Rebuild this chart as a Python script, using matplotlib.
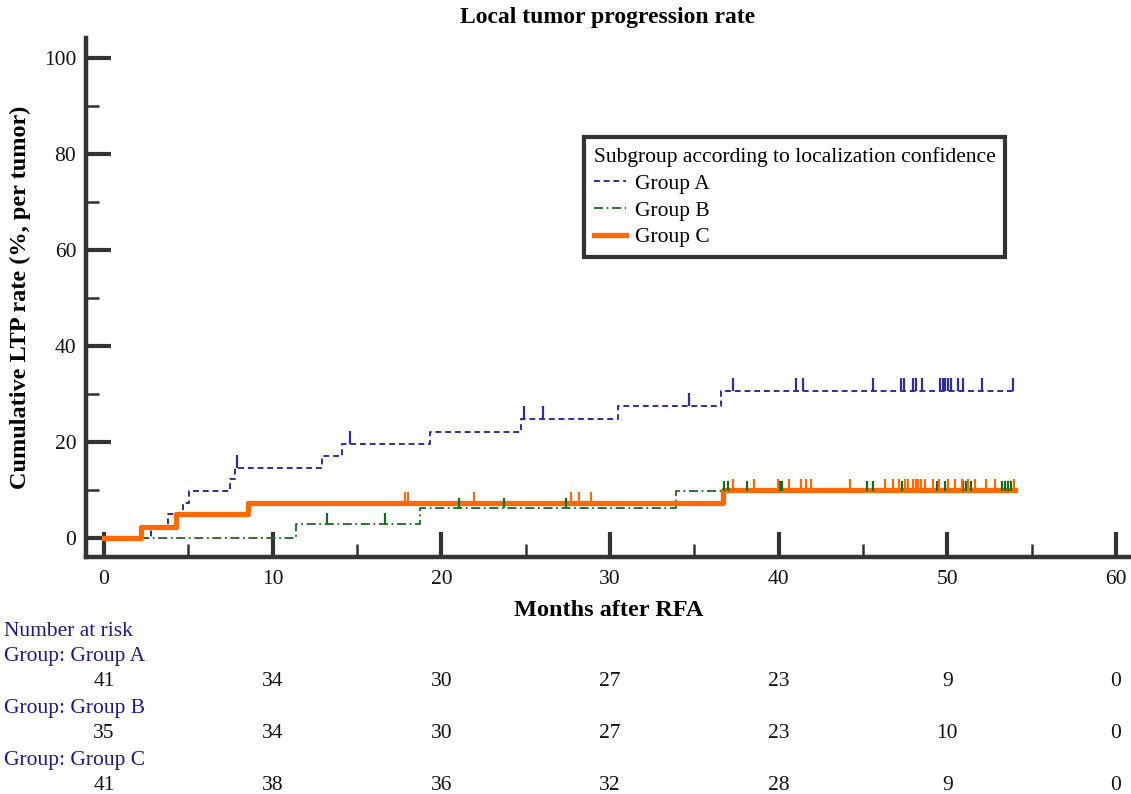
import numpy as np
import matplotlib
matplotlib.use("Agg")
import matplotlib.pyplot as plt
from matplotlib.transforms import blended_transform_factory
from matplotlib.ticker import MultipleLocator

# ---------------- data ----------------
group_names = ["Group A", "Group B", "Group C"]

# step curves (time in months, cumulative LTP rate in %)
a_times = [0, 2.77, 3.8, 4.7, 5.06, 7.47, 7.79, 12.9, 14.1, 19.3, 24.7, 30.5, 36.6, 54.0]
a_rates = [0, 2.4, 4.9, 7.3, 9.8, 12.2, 14.6, 17.0, 19.6, 22.0, 24.7, 27.5, 30.6, 30.6]
a_cens = [7.9, 14.6, 24.9, 26.0, 34.7, 37.3, 41.0, 41.45, 45.57, 47.28, 47.42, 47.97,
          48.13, 48.47, 49.55, 49.73, 49.85, 50.03, 50.19, 50.62, 50.92, 52.03, 53.9]

b_times = [0, 11.38, 18.73, 33.89, 54.0]
b_rates = [0, 3.0, 6.2, 9.7, 9.7]
b_cens = [13.2, 16.66, 21.04, 23.71, 27.37, 36.75, 37.0, 38.13, 40.07, 40.17, 45.21,
          45.6, 47.34, 49.36, 49.85, 50.94, 51.08, 51.43, 53.27, 53.41, 53.6, 53.76]

c_times = [0, 2.19, 4.25, 8.56, 36.67, 54.0]
c_rates = [0, 2.3, 4.9, 7.3, 10.0, 10.0]
c_cens = [17.84, 18.04, 21.95, 27.68, 28.16, 28.85, 37.3, 38.55, 39.97, 40.62, 41.32,
          41.65, 41.91, 44.22, 46.3, 46.75, 47.14, 47.48, 47.68, 47.97, 48.13, 48.27,
          48.41, 48.67, 49.16, 49.52, 50.05, 50.44, 50.84, 51.24, 51.63, 52.32, 52.82,
          53.96]

risk_times = [0, 10, 20, 30, 40, 50, 60]
risk_a = [41, 34, 30, 27, 23, 9, 0]
risk_b = [35, 34, 30, 27, 23, 10, 0]
risk_c = [41, 38, 36, 32, 28, 9, 0]

# ---------------- style ----------------
plt.rcParams['font.family'] = ['Liberation Serif', 'DejaVu Serif']
AX = '#333333'
BLUE = '#2E2E9A'
GREEN = '#1B6B1B'
ORANGE = '#FF6A00'
NAVY = '#1A1A8C'

W, H = 1131, 794
fig = plt.figure(figsize=(W / 100, H / 100), dpi=100)
ax = fig.add_axes([86 / W, 1 - 557 / H, (W - 86) / W, (557 - 38) / H])

ax.set_xlim(-18 / 16.867, 60 + 15 / 16.867)
ax.set_ylim(-19 / 4.8, 100 + 20 / 4.8)

def censor_levels(times, rates, cens):
    idx = np.searchsorted(np.array(times), np.array(cens), side='right') - 1
    return np.array(rates)[idx]

series = [
    (a_times, a_rates, a_cens, BLUE, (0, (3, 2)), 1.4, 2.7),
    (b_times, b_rates, b_cens, GREEN, (0, (5, 2, 1, 2)), 1.3, 2.2),
    (c_times, c_rates, c_cens, ORANGE, '-', 3.8, 2.3),
]
handles = []
for t, r, cz, col, ls, lw, th in series:
    ln, = ax.step(t, r, where='post', color=col, linestyle=ls, linewidth=lw,
                  zorder=3 if col == ORANGE else 2)
    lv = censor_levels(t, r, cz)
    ax.vlines(cz, lv, lv + th, color=col, linewidth=1.6, zorder=4)
    handles.append(ln)

# axes styling
for s in ['top', 'right']:
    ax.spines[s].set_visible(False)
for s in ['left', 'bottom']:
    ax.spines[s].set_linewidth(3.2)
    ax.spines[s].set_color(AX)

ax.xaxis.set_major_locator(MultipleLocator(10))
ax.xaxis.set_minor_locator(MultipleLocator(5))
ax.yaxis.set_major_locator(MultipleLocator(20))
ax.yaxis.set_minor_locator(MultipleLocator(10))
ax.tick_params(axis='both', which='major', direction='in', length=18, width=3, color=AX,
               labelsize=15.5, labelcolor='#111111')
ax.tick_params(axis='both', which='minor', direction='in', length=9.5, width=1.8, color=AX)
ax.tick_params(axis='x', which='major', pad=9)
ax.tick_params(axis='y', which='major', pad=7)

ax.set_xlabel("Months after RFA", fontsize=17.5, fontweight='bold', labelpad=8)
ax.set_ylabel("Cumulative LTP rate (%, per tumor)", fontsize=17.5, fontweight='bold', labelpad=9)
fig.text(608 / W, 1 - 18 / H, "Local tumor progression rate", fontsize=17, fontweight='bold',
         ha='center', va='center')

leg = ax.legend(handles=handles, labels=group_names,
                title="Subgroup according to localization confidence",
                loc='upper left', bbox_to_anchor=(584 / W, 1 - 137 / H),
                bbox_transform=fig.transFigure, fontsize=15.5, title_fontsize=15.5,
                fancybox=False, framealpha=1, edgecolor=AX, handlelength=1.5,
                handletextpad=0.4, labelspacing=0.32, borderpad=0.45,
                borderaxespad=0)
leg.get_frame().set_linewidth(3)
leg._legend_box.align = "left"

# number at risk table
tr = blended_transform_factory(ax.transData, fig.transFigure)
fig.text(4 / W, 1 - 631 / H, "Number at risk", color=NAVY, fontsize=15.5, va='center', ha='left')
rows = [("Group: Group A", risk_a, 657, 682),
        ("Group: Group B", risk_b, 708, 734),
        ("Group: Group C", risk_c, 760, 785)]
for lab, vals, ly, vy in rows:
    fig.text(4 / W, 1 - ly / H, lab, color=NAVY, fontsize=15.5, va='center', ha='left')
    for t, v in zip(risk_times, vals):
        ax.text(t, 1 - vy / H, str(v), transform=tr, fontsize=15.5, ha='center', va='center',
                color='#111111', clip_on=False)

fig.savefig("out.png", dpi=100)
